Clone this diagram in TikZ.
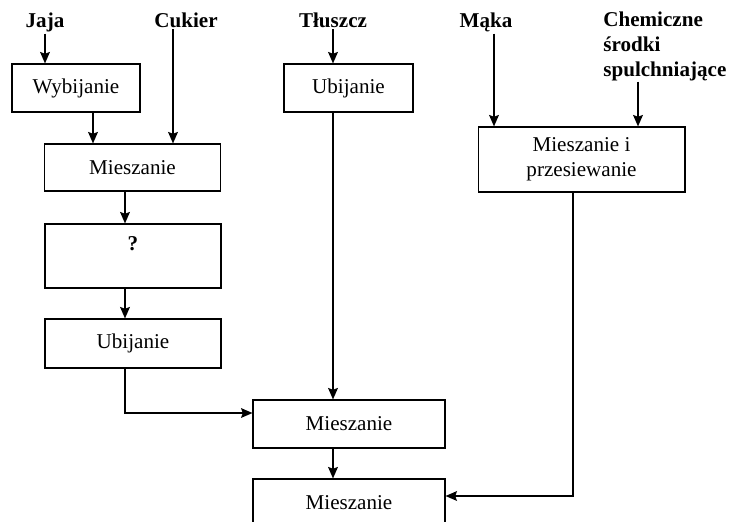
\documentclass[tikz,border=0pt]{standalone}
\usepackage{fontspec}
\setmainfont{Liberation Serif}
\usetikzlibrary{arrows.meta, positioning}
\usetikzlibrary{calc}

\begin{document}
\begin{tikzpicture}[x=0.02cm, y=-0.02cm]

        % Setup the styles for the steps, the inputs and the arrows
        \tikzset{box style/.style={draw,
                                   rectangle,
                                   line width=0.6pt,
                                   inner sep=2pt,
                                   align=center,
                                   font=\fontsize{12}{14.2}\selectfont},
                 input style/.style={inner sep=1pt,
                                     align=left,
                                     font=\fontsize{12}{14.2}\selectfont\bfseries},
                 flow/.style={line width=1.2pt,
                              -{Stealth[length=6.5pt, width=5.5pt, inset=1pt]}}}

        \useasboundingbox (0,0) rectangle (740,521);

        % Draw the inputs
        \node[input style, anchor=base] at (45, 27)       (jaja)     {Jaja};
        \node[input style, anchor=base] at (186, 27)      (cukier)   {Cukier};
        \node[input style, anchor=base] at (333, 27)      (tluszcz)  {Tłuszcz};
        \node[input style, anchor=base] at (486, 27)      (maka)     {Mąka};
        \node[input style, anchor=north west, inner sep=0pt] at (603, 12) (chemia)
            {Chemiczne\\środki\\spulchniające};

        % Draw the steps
        \node[box style, minimum width=2.56cm, minimum height=0.96cm] at (76, 88)     (wybijanie) {Wybijanie};
        \node[box style, minimum width=3.52cm, minimum height=0.94cm] at (132.5, 167.5) (miesz1)  {Mieszanie};
        \node[box style, minimum width=3.52cm, minimum height=1.28cm] at (133, 256)   (pytanie)   {\textbf{?}\\ \mbox{}};
        \node[box style, minimum width=3.52cm, minimum height=0.98cm] at (133, 343.5) (ubij2)     {Ubijanie};
        \node[box style, minimum width=2.58cm, minimum height=0.96cm] at (348.5, 88)  (ubij1)     {Ubijanie};
        \node[box style, minimum width=4.14cm, minimum height=1.30cm] at (581.5, 159.5) (przesiew) {Mieszanie i\\przesiewanie};
        \node[box style, minimum width=3.84cm, minimum height=0.96cm] at (349, 424)   (miesz3)    {Mieszanie};
        \node[box style, minimum width=3.84cm, minimum height=0.96cm] at (349, 503)   (miesz4)    {Mieszanie};

        % Connect the steps with arrows
        \draw[flow] (jaja.south) -- (jaja.south |- wybijanie.north);
        \draw[flow] (173,0 |- cukier.south) -- (173,0 |- miesz1.north);
        \draw[flow] (93,0 |- wybijanie.south) -- (93,0 |- miesz1.north);
        \draw[flow] (125,0 |- miesz1.south) -- (125,0 |- pytanie.north);
        \draw[flow] (125,0 |- pytanie.south) -- (125,0 |- ubij2.north);
        \draw[flow, line width=0.9pt] (125,0 |- ubij2.south) |- (miesz3.west |- 0,413);
        \draw[flow] (tluszcz.south) -- (tluszcz.south |- ubij1.north);
        \draw[flow] (333,0 |- ubij1.south) -- (333,0 |- miesz3.north);
        \draw[flow] (333,0 |- miesz3.south) -- (333,0 |- miesz4.north);
        \draw[flow] (494,0 |- maka.south) -- (494,0 |- przesiew.north);
        \draw[flow] (638,0 |- chemia.south) -- (638,0 |- przesiew.north);
        \draw[flow, line width=1pt] (573,0 |- przesiew.south) |- (miesz4.east |- 0,496);

\end{tikzpicture}
\end{document}
